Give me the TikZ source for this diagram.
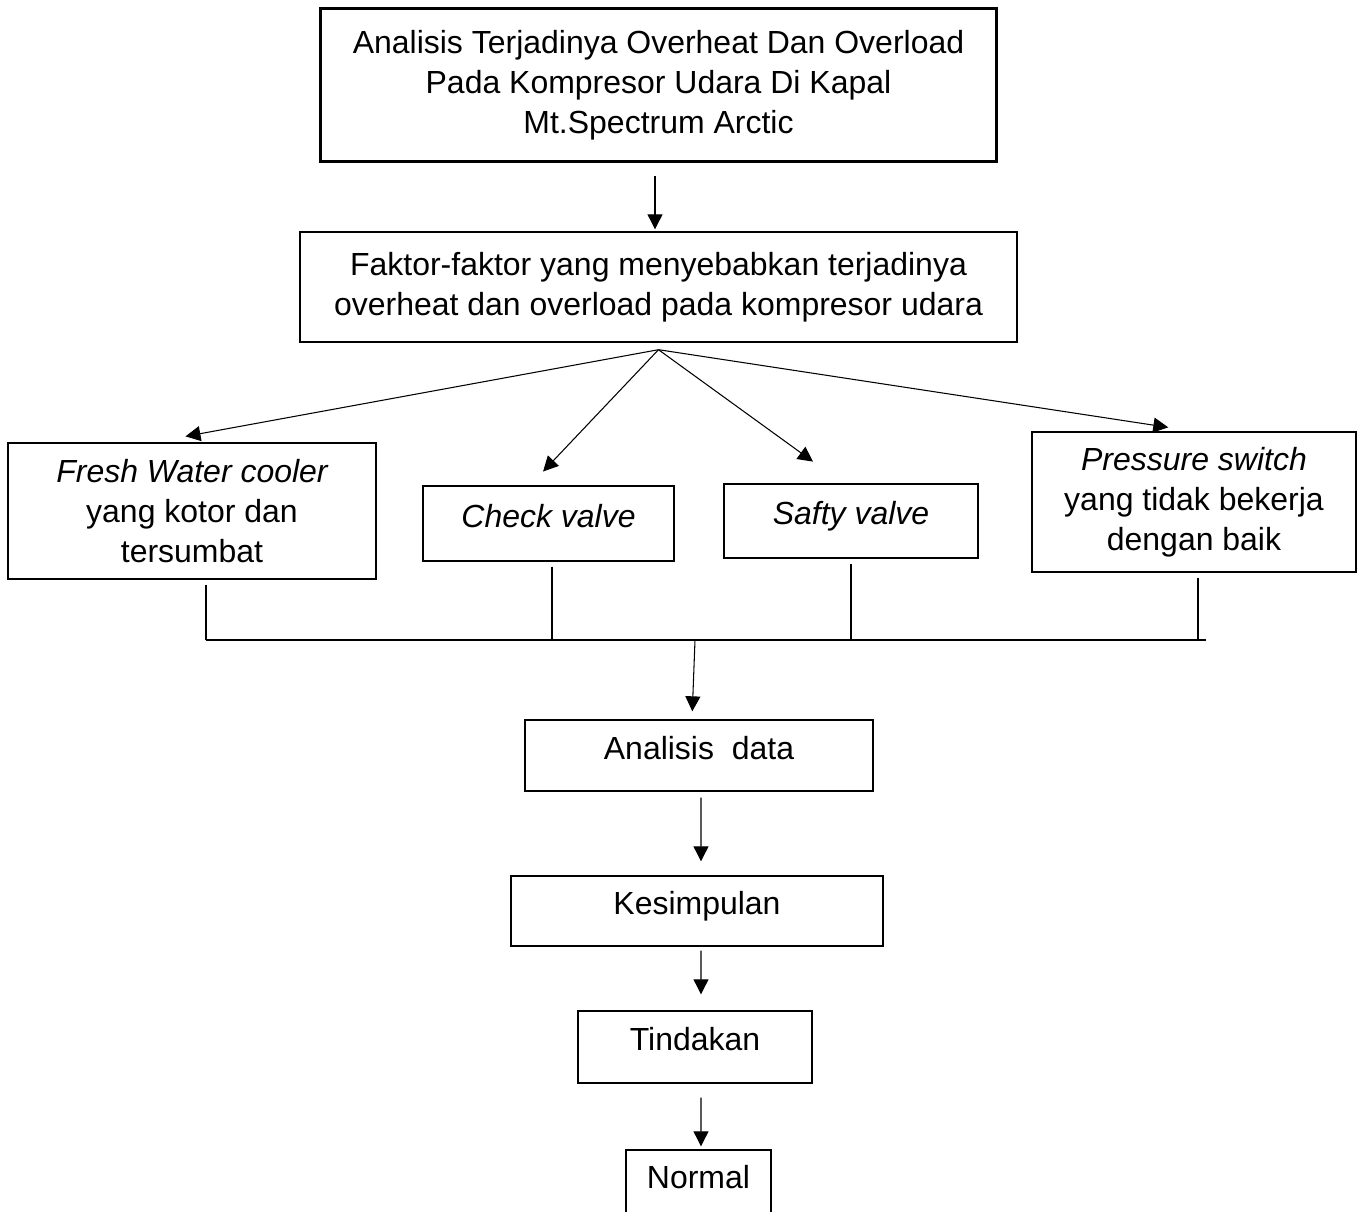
\documentclass[tikz,border=0pt]{standalone}
\usepackage{fontspec}
\setmainfont{Liberation Sans}
\usepackage{tikz}
\usetikzlibrary{positioning,arrows.meta,calc}
\tikzset{
  kotak/.style={
    rectangle, draw=black, line width=0.8pt, align=center,
    font=\fontsize{18.2pt}{22.8pt}\selectfont, inner sep=0pt},
  kotakSatu/.style={kotak, text height=0.75em, text depth=0.33em},
  kotakTebal/.style={kotak, line width=1.7pt},
  panah/.style={-{Triangle[length=0.3cm,width=0.3cm]}, draw=black, line width=0.6pt},
  garis/.style={draw=black, line width=0.6pt}
}
\begin{document}
\begin{tikzpicture}[x=0.02cm, y=-0.02cm]

  \clip (0,0) rectangle (1363,1211);

  % --- Judul dan faktor
  \node[kotakTebal, minimum width=13.54cm, minimum height=3.08cm] (judul) at (658.5,85)
    {Analisis Terjadinya Overheat Dan Overload\\Pada Kompresor Udara Di Kapal\\Mt.Spectrum Arctic};
  \node[kotak, minimum width=14.34cm, minimum height=2.2cm] (faktor) at (658.5,287)
    {Faktor-faktor yang menyebabkan terjadinya\\overheat dan overload pada kompresor udara};

  \draw[panah, shorten <=0.26cm, shorten >=0.04cm]
    ([xshift=-0.07cm]judul.south) -- ([xshift=-0.07cm]faktor.north);

  % --- Empat penyebab
  \node[kotak, minimum width=7.36cm, minimum height=2.72cm] (fw) at (192,511)
    {\itshape Fresh Water cooler\\yang kotor dan\\tersumbat};
  \node[kotakSatu, minimum width=5.02cm, minimum height=1.5cm] (check) at (548.5,523.5)
    {\itshape Check valve};
  \node[kotakSatu, minimum width=5.08cm, minimum height=1.48cm] (safty) at (851,521)
    {\itshape Safty valve};
  \node[kotak, minimum width=6.48cm, minimum height=2.8cm] (pressure) at (1194,502)
    {\itshape Pressure switch\\yang tidak bekerja\\dengan baik};

  \coordinate (pusat) at ([yshift=-0.14cm]faktor.south);
  \draw[panah, shorten >=0.66cm] (pusat) -- ([xshift=-0.78cm]fw.north);
  \draw[panah, shorten >=0.38cm] (pusat) -- ([xshift=-0.37cm]check.north);
  \draw[panah, shorten >=0.74cm] (pusat) -- ([xshift=-0.16cm]safty.north);
  \draw[panah, shorten >=0.52cm] (pusat) -- (pressure.north);

  % --- Garis pengumpul
  \coordinate (rel) at (0,640);
  \coordinate (relKanan) at (1206,640);
  \coordinate (relTengah) at (695,640);
  \foreach \n/\dx in {fw/0.28, check/0.07, safty/0, pressure/0.08} {
    \coordinate (v\n) at ([xshift=\dx cm]\n.south);
    \draw[garis] ([yshift=-0.1cm]v\n) -- (v\n |- rel);
  }
  \draw[garis] (vfw |- rel) -- (relKanan);

  % --- Alur bawah
  \node[kotakSatu, minimum width=6.96cm, minimum height=1.42cm] (analisis) at (699,755.5)
    {Analisis\ \ data};
  \node[kotakSatu, minimum width=7.44cm, minimum height=1.4cm] (simpul) at (697,911)
    {Kesimpulan};
  \node[kotakSatu, minimum width=4.68cm, minimum height=1.44cm] (tindakan) at (695,1047)
    {Tindakan};
  \node[kotakSatu, minimum width=2.9cm, minimum height=1.4cm] (normal) at (698.5,1185)
    {Normal};

  \draw[panah, shorten >=0.16cm] (relTengah) -- ([xshift=-0.14cm]analisis.north);
  \draw[panah, shorten <=0.12cm, shorten >=0.28cm]
    ([xshift=0.04cm]analisis.south) -- ([xshift=0.08cm]simpul.north);
  \draw[panah, shorten <=0.08cm, shorten >=0.32cm]
    ([xshift=0.08cm]simpul.south) -- ([xshift=0.12cm]tindakan.north);
  \draw[panah, shorten <=0.28cm, shorten >=0.06cm]
    ([xshift=0.12cm]tindakan.south) -- ([xshift=0.05cm]normal.north);

\end{tikzpicture}
\end{document}
